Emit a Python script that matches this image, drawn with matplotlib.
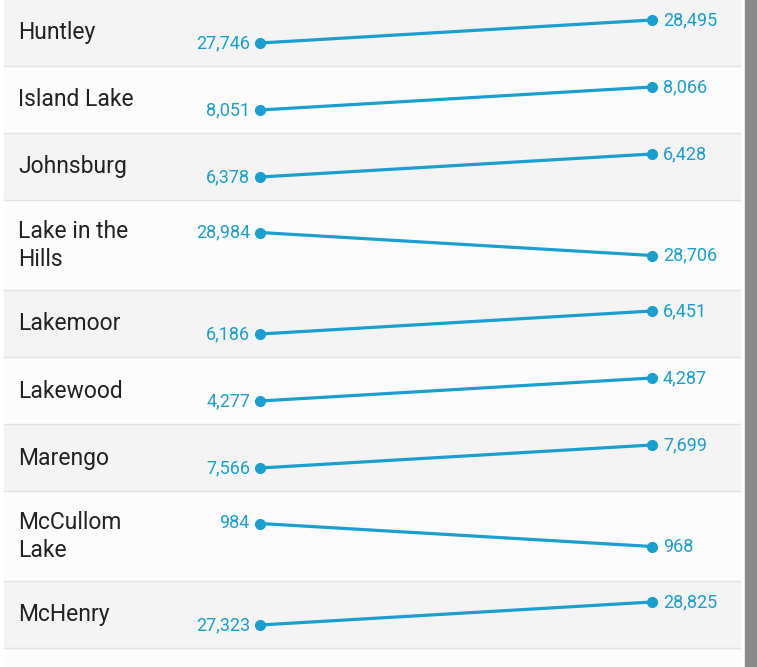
import matplotlib
matplotlib.use("Agg")
import matplotlib.pyplot as plt
from matplotlib.patches import Rectangle

# data: (start, end) per place
places = ["Huntley", "Island Lake", "Johnsburg", "Lake in the\nHills", "Lakemoor",
          "Lakewood", "Marengo", "McCullom\nLake", "McHenry"]
start_vals = [27746, 8051, 6378, 28984, 6186, 4277, 7566, 984, 27323]
end_vals = [28495, 8066, 6428, 28706, 6451, 4287, 7699, 968, 28825]

LINE_COLOR = "#1a9fcf"
TEXT_COLOR = "#222222"
ROW_A = "#f4f4f4"
ROW_B = "#fcfcfc"
SEP = "#e2e2e2"

W, H = 757, 667
X0, X1 = 260, 652      # slope endpoints (px)
ROW_LEFT, ROW_RIGHT = 4, 740

plt.rcParams["font.family"] = ["Roboto", "DejaVu Sans"]

fig = plt.figure(figsize=(W / 100, H / 100), dpi=100)
fig.patch.set_facecolor("white")
ax = fig.add_axes([0, 0, 1, 1])
ax.set_xlim(0, W)
ax.set_ylim(H, 0)
ax.axis("off")

# background under rows
ax.add_patch(Rectangle((ROW_LEFT, 0), ROW_RIGHT - ROW_LEFT, H, color=ROW_B, zorder=0))
# scrollbar
ax.add_patch(Rectangle((745, 0), W - 745, H, color="#8a8a8a", zorder=0))

top = -1.5
for i, (name, a, b) in enumerate(zip(places, start_vals, end_vals)):
    nlines = name.count("\n") + 1
    h = 67 if nlines == 1 else 90
    bg = ROW_A if i % 2 == 0 else ROW_B
    ax.add_patch(Rectangle((ROW_LEFT, top), ROW_RIGHT - ROW_LEFT, h, color=bg, zorder=0))
    ax.plot([ROW_LEFT, ROW_RIGHT], [top + h, top + h], color=SEP, lw=1, zorder=1)
    c = top + h / 2

    ax.text(18, c + 1, name, ha="left", va="center", fontsize=16.5,
            color=TEXT_COLOR, linespacing=1.33)

    # normalised within the row: higher value sits higher
    lo, hi = min(a, b), max(a, b)
    ya = c + 11 - 23 * (a - lo) / (hi - lo)
    yb = c + 11 - 23 * (b - lo) / (hi - lo)
    ax.plot([X0, X1], [ya, yb], color=LINE_COLOR, lw=2.3, zorder=3,
            marker="o", markersize=7, solid_capstyle="round")
    ax.text(X0 - 10, ya, f"{a:,}", ha="right", va="center", fontsize=13, color=LINE_COLOR)
    ax.text(X1 + 11, yb, f"{b:,}", ha="left", va="center", fontsize=13, color=LINE_COLOR)
    top += h

fig.savefig("out.png", dpi=100, facecolor=fig.get_facecolor())
